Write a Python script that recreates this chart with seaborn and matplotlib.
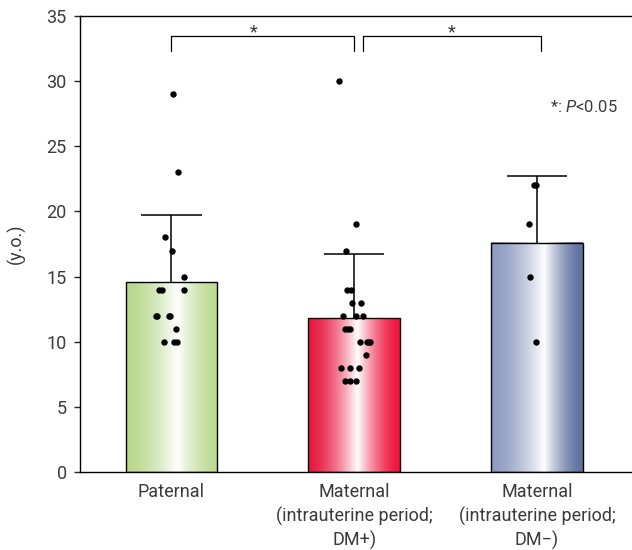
import numpy as np
import pandas as pd
import matplotlib
matplotlib.use('Agg')
import matplotlib.pyplot as plt
from matplotlib.colors import to_rgb
import seaborn as sns

groups = ['Paternal',
          'Maternal\n(intrauterine period;\nDM+)',
          'Maternal\n(intrauterine period;\nDM\u2212)']
paternal = [29, 23, 18, 17, 15, 14, 14, 14, 12, 12, 12, 12, 11, 10, 10, 10]
dm_plus = [30, 19, 17, 14, 14, 13, 13, 12, 12, 12, 11, 11, 11,
           10, 10, 10, 10, 9, 8, 8, 8, 7, 7, 7]
dm_minus = [22, 22, 19, 15, 10]
edge_left = ['#b8d88c', '#e8183f', '#8e9bc0']
edge_right = ['#bcda92', '#ee1640', '#5f719f']
white_pos = [0.56, 0.54, 0.58]

df = pd.DataFrame({
    'group': [groups[0]] * len(paternal) + [groups[1]] * len(dm_plus) + [groups[2]] * len(dm_minus),
    'age': paternal + dm_plus + dm_minus,
})

sns.set_style('ticks')
plt.rcParams['font.family'] = ['Roboto', 'DejaVu Sans']
plt.rcParams['mathtext.fontset'] = 'custom'
plt.rcParams['mathtext.it'] = 'Roboto:italic'
plt.rcParams['mathtext.rm'] = 'Roboto'
txt = '#3a3a3a'
fs = 13

fig = plt.figure(figsize=(6.32, 5.5), dpi=100)
ax = fig.add_axes([80 / 632, 78 / 550, 552 / 632, 456 / 550])

sns.barplot(data=df, x='group', y='age', order=groups, errorbar=None,
            width=0.5, color='white', ax=ax, zorder=2)

# gradient fill clipped to each bar
t = np.linspace(0, 1, 300)
for i, patch in enumerate(ax.patches):
    x0, y0 = patch.get_x(), patch.get_y()
    w, h = patch.get_width(), patch.get_height()
    c = white_pos[i]
    wl = np.clip(t / c, 0, 1) ** 1.6
    wr = np.clip((1 - t) / (1 - c), 0, 1) ** 1.6
    cl, cr = np.array(to_rgb(edge_left[i])), np.array(to_rgb(edge_right[i]))
    img = np.where((t < c)[:, None],
                   cl * (1 - wl[:, None]) + wl[:, None],
                   cr * (1 - wr[:, None]) + wr[:, None])
    ax.imshow(img[None, :, :], extent=[x0, x0 + w, y0, y0 + h],
              aspect='auto', interpolation='bilinear', zorder=1.9)
    patch.set_facecolor('none')
    patch.set_edgecolor('black')
    patch.set_linewidth(1.0)

# upper SD whiskers
stats = df.groupby('group', sort=False)['age'].agg(['mean', 'std']).reindex(groups)
for i, (m, s) in enumerate(zip(stats['mean'], stats['std'])):
    ax.vlines(i, m, m + s, color='black', lw=1.1, zorder=2.5)
    ax.hlines(m + s, i - 0.165, i + 0.165, color='black', lw=1.1, zorder=2.5)

np.random.seed(3)
sns.stripplot(data=df, x='group', y='age', order=groups, color='black',
              size=4.6, jitter=0.09, ax=ax, zorder=3)

# significance brackets
for xa, xb, xs in [(0, 1.0, 0.45), (1.05, 2.02, 1.535)]:
    ax.plot([xa, xa, xb, xb], [32.3, 33.45, 33.45, 32.3], color='black', lw=0.9,
            clip_on=False, zorder=3)
    ax.text(xs, 33.75, '*', ha='center', va='center', fontsize=13, color=txt)
ax.text(2.44, 28.0, r'*: $\it{P}$<0.05', ha='right', va='center', fontsize=12, color=txt)

ax.set_xlim(-0.5, 2.52)
ax.set_ylim(0, 35)
ax.set_yticks(range(0, 36, 5))
ax.set_xlabel('')
ax.set_ylabel('(y.o.)', fontsize=fs, color=txt)
ax.yaxis.set_label_coords(-0.098, 0.5)
ax.tick_params(axis='y', length=4.5, width=1, pad=5, labelsize=fs, labelcolor=txt)
ax.tick_params(axis='x', length=0, pad=8, labelsize=fs, labelcolor=txt)
for lbl in ax.get_xticklabels():
    lbl.set_linespacing(1.35)
ax.spines['right'].set_visible(False)
for sp in ['left', 'bottom', 'top']:
    ax.spines[sp].set_linewidth(1.0)
    ax.spines[sp].set_color('black')

fig.savefig('out.png', dpi=100)
